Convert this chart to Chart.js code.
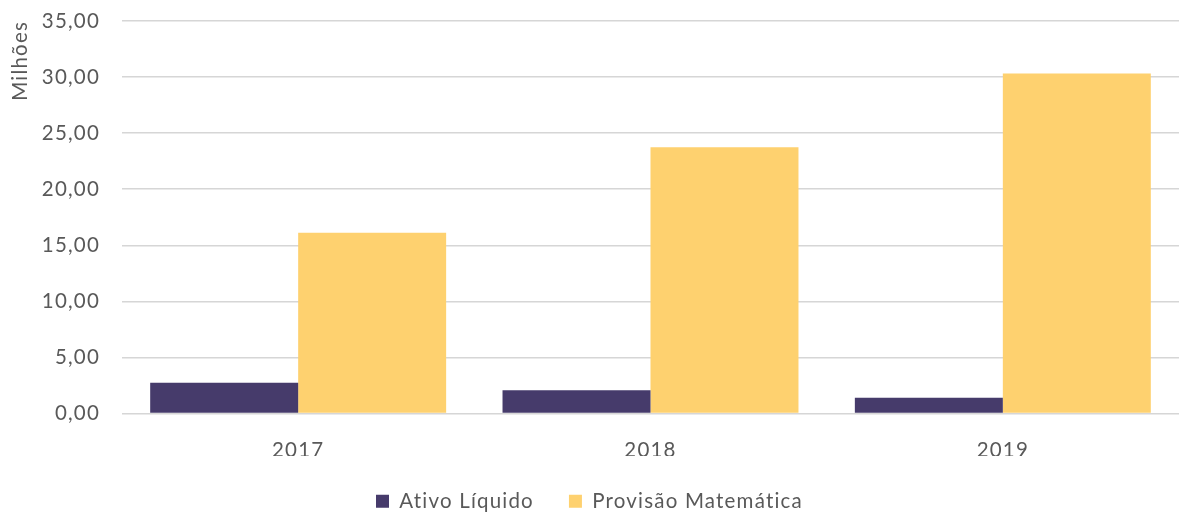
<!DOCTYPE html>
<html>
<head>
<meta charset="utf-8">
<script src="https://cdn.jsdelivr.net/npm/chart.js@4"></script>
<style>
  html, body { margin: 0; padding: 0; background: #ffffff; }
  #wrap { width: 1179px; height: 514px; position: relative; }
</style>
</head>
<body>
<div id="wrap"><canvas id="c" width="1179" height="514"></canvas></div>
<script>
const categories = ['2017', '2018', '2019'];
const ativoLiquido = [2.74, 2.07, 1.41];
const provisaoMatematica = [16.11, 23.75, 30.32];
const seriesNames = ['Ativo Líquido', 'Provisão Matemática'];
const yTickLabels = ['0,00', '5,00', '10,00', '15,00', '20,00', '25,00', '30,00', '35,00'];
const yAxisTitle = 'Milhões';

const FONT = "Lato, 'Open Sans', sans-serif";
const FS = 20.5;
const TXT = '#595959';
const LS = '1.2px';

const letterSpacingPlugin = {
  id: 'letterSpacing',
  beforeUpdate(chart) { chart.ctx.letterSpacing = LS; },
  beforeLayout(chart) { chart.ctx.letterSpacing = LS; },
  beforeDraw(chart) { chart.ctx.letterSpacing = LS; }
};

new Chart(document.getElementById('c'), {
  type: 'bar',
  plugins: [letterSpacingPlugin],
  data: {
    labels: categories,
    datasets: [
      { label: seriesNames[0], data: ativoLiquido, backgroundColor: '#463B6B', borderWidth: 0 },
      { label: seriesNames[1], data: provisaoMatematica, backgroundColor: '#FED16F', borderWidth: 0 }
    ]
  },
  options: {
    responsive: false,
    animation: false,
    layout: { padding: { left: 0, right: 0, top: 0, bottom: 0 } },
    datasets: { bar: { categoryPercentage: 0.84, barPercentage: 1.0 } },
    plugins: {
      legend: {
        position: 'bottom',
        maxHeight: 58,
        labels: {
          font: { family: FONT, size: FS },
          color: TXT,
          boxWidth: 13,
          boxHeight: 13,
          padding: 35
        }
      },
      tooltip: { enabled: false }
    },
    scales: {
      x: {
        grid: { display: false, drawTicks: false },
        border: { display: false },
        ticks: { font: { family: FONT, size: FS }, color: TXT, padding: 25 },
        afterFit(axis) { axis.height = 42.5; }
      },
      y: {
        min: 0, max: 35,
        grid: { color: '#D6D6D6', lineWidth: 1.5, drawTicks: false },
        border: { display: false },
        ticks: {
          stepSize: 5,
          font: { family: FONT, size: FS },
          color: TXT,
          padding: 22,
          callback: (v, i) => yTickLabels[i]
        },
        title: {
          display: true,
          text: yAxisTitle,
          align: 'end',
          font: { family: FONT, size: FS },
          color: TXT,
          padding: { top: 8, bottom: 6 }
        },
        afterFit(axis) {
          axis.width = 122;
          axis.paddingTop = 21;
        }
      }
    }
  }
});
</script>
</body>
</html>
